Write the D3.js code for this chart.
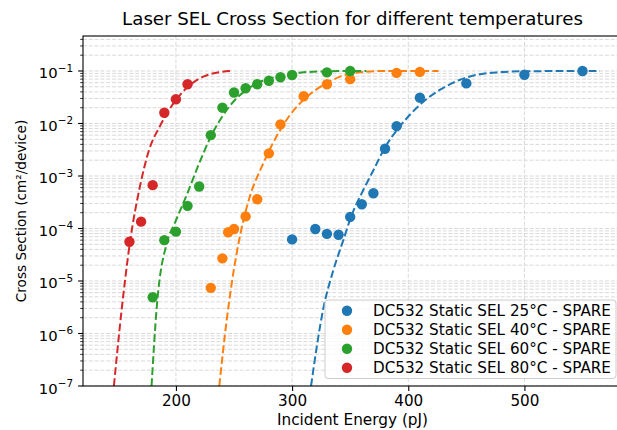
<!DOCTYPE html>
<html>
<head>
<meta charset="utf-8">
<script src="https://cdn.jsdelivr.net/npm/d3@7"></script>
<style>
  body { margin: 0; background: #fff; }
  svg { display: block; font-family: "DejaVu Sans", sans-serif; }
</style>
</head>
<body>
<svg id="chart" width="617" height="430"></svg>
<script>
// Measured cross sections per temperature (energy in pJ, cross section in cm²/device)
const labels = ["DC532 Static SEL 25°C - SPARE", "DC532 Static SEL 40°C - SPARE",
                "DC532 Static SEL 60°C - SPARE", "DC532 Static SEL 80°C - SPARE"];
const colors = ["#1f77b4", "#ff7f0e", "#2ca02c", "#d62728"];

const energy25 = [300, 320, 330, 340, 350, 360, 370, 380, 390, 410, 450, 500, 550];
const sigma25  = [6.2e-5, 9.8e-5, 7.9e-5, 7.6e-5, 1.66e-4, 2.9e-4, 4.7e-4, 3.3e-3, 8.9e-3, 3.1e-2, 5.8e-2, 8.5e-2, 1.0e-1];
const energy40 = [230, 240, 245, 250, 260, 270, 280, 290, 310, 330, 350, 390, 410];
const sigma40  = [7.4e-6, 2.7e-5, 8.5e-5, 9.8e-5, 1.7e-4, 3.6e-4, 2.7e-3, 9.6e-3, 3.3e-2, 5.6e-2, 7.0e-2, 9.2e-2, 9.6e-2];
const energy60 = [180, 190, 200, 210, 220, 230, 240, 250, 260, 270, 280, 290, 300, 330, 350];
const sigma60  = [4.9e-6, 6.0e-5, 8.7e-5, 2.7e-4, 6.3e-4, 6.0e-3, 2.0e-2, 3.9e-2, 4.7e-2, 5.6e-2, 6.5e-2, 7.6e-2, 8.4e-2, 9.4e-2, 1.0e-1];
const energy80 = [160, 170, 180, 190, 200, 210];
const sigma80  = [5.6e-5, 1.35e-4, 6.7e-4, 1.6e-2, 2.9e-2, 5.6e-2];

// Fitted response curves (dashed), sampled along energy
const fitE25 = [316.3, 326.9, 335.5, 344.1, 351.3, 361.3, 370, 380, 390, 398.7, 413, 427.4, 444.6, 461.8, 479, 500.6, 565];
const fitS25 = [1e-7, 3.0e-6, 1.6e-5, 6.0e-5, 1.8e-4, 5.4e-4, 1.29e-3, 3.5e-3, 7.4e-3, 1.26e-2, 2.6e-2, 4.4e-2, 6.8e-2, 8.7e-2, 9.5e-2, 9.9e-2, 1e-1];
const fitE40 = [237.3, 243.7, 252.3, 258, 263.7, 275.2, 288.1, 298.2, 312.6, 326.9, 341.3, 358.5, 380, 426];
const fitS40 = [1e-7, 1.8e-6, 3.4e-5, 1.4e-4, 4.1e-4, 1.74e-3, 6.5e-3, 1.45e-2, 3.2e-2, 5.4e-2, 7.8e-2, 9.5e-2, 1e-1, 1e-1];
const fitE60 = [179, 183.5, 192.5, 199, 209, 220.7, 230.7, 240.7, 250.8, 260.9, 271, 290, 307, 331, 364];
const fitS60 = [1e-7, 3.2e-6, 5.6e-5, 1.26e-4, 4.2e-4, 1.9e-3, 6.0e-3, 1.45e-2, 2.8e-2, 4.4e-2, 6.0e-2, 8.1e-2, 9.3e-2, 9.9e-2, 1e-1];
const fitE80 = [146.6, 153, 160.5, 169, 177, 186, 202, 212, 223.5, 235, 248];
const fitS80 = [1e-7, 2.5e-6, 5.6e-5, 6.3e-4, 3.2e-3, 8.7e-3, 3.2e-2, 5.4e-2, 7.8e-2, 9.3e-2, 1e-1];

const xTicks = [200, 300, 400, 500];
const yExponents = [-7, -6, -5, -4, -3, -2, -1];

const series = [
  { E: energy25, S: sigma25, fE: fitE25, fS: fitS25 },
  { E: energy40, S: sigma40, fE: fitE40, fS: fitS40 },
  { E: energy60, S: sigma60, fE: fitE60, fS: fitS60 },
  { E: energy80, S: sigma80, fE: fitE80, fS: fitS80 }
];

const svg = d3.select("#chart");
const plot = { left: 83, right: 622, top: 36, bottom: 386 };

const x = d3.scaleLinear().domain([120, 584]).range([plot.left, plot.right]);
const yTop = 0.464;
const y = d3.scaleLog().domain([1e-7, yTop]).range([plot.bottom, plot.top]);

svg.append("defs").append("clipPath").attr("id", "plotClip")
  .append("rect")
  .attr("x", plot.left).attr("y", plot.top)
  .attr("width", plot.right - plot.left).attr("height", plot.bottom - plot.top);

// Grid: major + minor on log y, major on x
const gridColor = "#d9d9d9";
const yMinor = [];
for (let e = -7; e <= 0; e++) {
  for (let m = 1; m <= 9; m++) {
    const v = m * Math.pow(10, e);
    if (v >= 1e-7 && v <= yTop) yMinor.push(v);
  }
}
const grid = svg.append("g").attr("clip-path", "url(#plotClip)");
grid.selectAll("line.gy").data(yMinor).join("line")
  .attr("x1", plot.left).attr("x2", plot.right)
  .attr("y1", d => y(d)).attr("y2", d => y(d))
  .attr("stroke", gridColor).attr("stroke-width", 1)
  .attr("stroke-dasharray", "4,1.8");
grid.selectAll("line.gx").data(xTicks).join("line")
  .attr("x1", d => x(d)).attr("x2", d => x(d))
  .attr("y1", plot.top).attr("y2", plot.bottom)
  .attr("stroke", gridColor).attr("stroke-width", 1)
  .attr("stroke-dasharray", "4,1.8");

// Data points and fitted curves
const marks = svg.append("g").attr("clip-path", "url(#plotClip)");
const line = d3.line().x(d => x(d[0])).y(d => y(d[1])).curve(d3.curveMonotoneX);
series.forEach((s, i) => {
  marks.append("g").selectAll("circle")
    .data(s.E.map((e, k) => [e, s.S[k]]))
    .join("circle")
    .attr("cx", d => x(d[0])).attr("cy", d => y(d[1]))
    .attr("r", 5.2).attr("fill", colors[i]);
  marks.append("path")
    .datum(s.fE.map((e, k) => [e, s.fS[k]]))
    .attr("d", line)
    .attr("fill", "none")
    .attr("stroke", colors[i])
    .attr("stroke-width", 2)
    .attr("stroke-dasharray", "7.7,3.3");
});

// Axes
const xAxis = d3.axisBottom(x).tickValues(xTicks).tickSize(4.9).tickPadding(4).tickFormat(d3.format("d"));
const gx = svg.append("g").attr("transform", `translate(0,${plot.bottom})`).call(xAxis);
gx.select(".domain").remove();
gx.selectAll(".tick line").attr("stroke", "#000").attr("stroke-width", 1.1);
gx.selectAll(".tick text").attr("font-size", 15.2).attr("font-family", "DejaVu Sans").attr("fill", "#000");

// y axis: minor ticks then major ticks with power-of-ten labels
const gy = svg.append("g");
gy.selectAll("line.minor").data(yMinor.filter(v => !yExponents.includes(Math.round(Math.log10(v) * 1000) / 1000)))
  .join("line")
  .attr("x1", plot.left - 2.8).attr("x2", plot.left)
  .attr("y1", d => y(d)).attr("y2", d => y(d))
  .attr("stroke", "#000").attr("stroke-width", 0.8);
gy.selectAll("line.major").data(yExponents).join("line")
  .attr("x1", plot.left - 4.9).attr("x2", plot.left)
  .attr("y1", d => y(Math.pow(10, d))).attr("y2", d => y(Math.pow(10, d)))
  .attr("stroke", "#000").attr("stroke-width", 1.1);
const yl = gy.selectAll("text.ylab").data(yExponents).join("text")
  .attr("x", plot.left - 10)
  .attr("y", d => y(Math.pow(10, d)) + 7.5)
  .attr("text-anchor", "end")
  .attr("font-size", 14.8)
  .attr("fill", "#000");
yl.append("tspan").text("10");
yl.append("tspan").attr("dy", -6.8).attr("font-size", 10.4).text(d => "\u2212" + Math.abs(d));

// Spines
svg.append("rect")
  .attr("x", plot.left).attr("y", plot.top)
  .attr("width", plot.right - plot.left).attr("height", plot.bottom - plot.top)
  .attr("fill", "none").attr("stroke", "#000").attr("stroke-width", 1.1);

// Titles
svg.append("text").attr("x", (plot.left + plot.right) / 2).attr("y", 25)
  .attr("text-anchor", "middle").attr("font-size", 18.2).attr("fill", "#000")
  .text("Laser SEL Cross Section for different temperatures");
svg.append("text").attr("x", (plot.left + plot.right) / 2).attr("y", 425)
  .attr("text-anchor", "middle").attr("font-size", 15.3).attr("fill", "#000")
  .text("Incident Energy (pJ)");
svg.append("text")
  .attr("transform", `translate(26,${(plot.top + plot.bottom) / 2}) rotate(-90)`)
  .attr("text-anchor", "middle").attr("font-size", 13.6).attr("fill", "#000")
  .text("Cross Section (cm²/device)");

// Legend
const legend = svg.append("g");
legend.append("rect")
  .attr("x", 325).attr("y", 300).attr("width", 291).attr("height", 78.5)
  .attr("rx", 3).attr("fill", "#fff").attr("fill-opacity", 0.8)
  .attr("stroke", "#cccccc").attr("stroke-width", 1);
labels.forEach((lab, i) => {
  const cy = 310.7 + i * 19;
  legend.append("circle").attr("cx", 347).attr("cy", cy).attr("r", 5.2).attr("fill", colors[i]);
  legend.append("text").attr("x", 373).attr("y", cy + 5.3).attr("font-size", 15.2).attr("fill", "#000").text(lab);
});
</script>
</body>
</html>
